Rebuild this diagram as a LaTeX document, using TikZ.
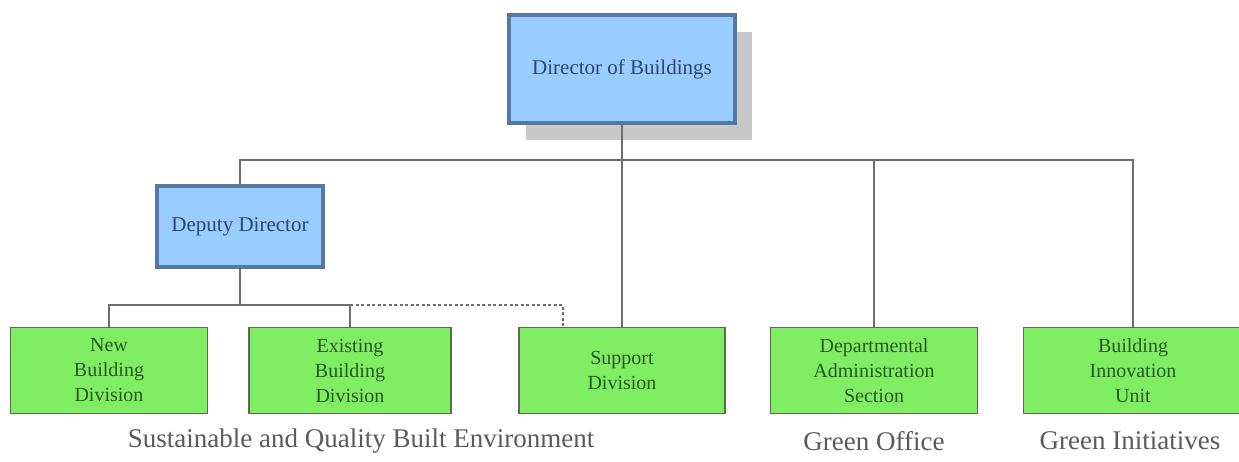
\documentclass[tikz,border=0pt]{standalone}
\usepackage{fontspec}
\setmainfont{Liberation Serif}
\usetikzlibrary{shadows}

\definecolor{chefe}{HTML}{99CCFF}
\definecolor{chefeborda}{HTML}{5878A4}
\definecolor{chefetexto}{HTML}{2C4670}
\definecolor{divisao}{HTML}{80EE62}
\definecolor{divisaoborda}{HTML}{5C6A54}
\definecolor{divisaotexto}{HTML}{2A5626}
\definecolor{sombra}{HTML}{C8C8C8}
\definecolor{linha}{HTML}{6E6E6E}
\definecolor{rotulo}{HTML}{5A5A5A}

\begin{document}
\begin{tikzpicture}[
                x=1pt, y=-1pt,
                chefe/.style={shape=rectangle, draw=chefeborda, line width=4pt, fill=chefe,
                    text=chefetexto, font=\fontsize{21}{25}\selectfont, inner sep=0pt},
                divisao/.style={shape=rectangle, draw=divisaoborda, line width=1.5pt, fill=divisao,
                    text=divisaotexto, font=\fontsize{20}{25}\selectfont, align=center,
                    minimum width=202pt, minimum height=86pt, inner sep=0pt},
                rotulo/.style={text=rotulo, font=\fontsize{27}{30}\selectfont},
                aresta/.style={draw=linha, line width=1.5pt},
                tracejada/.style={aresta, dash pattern=on 3pt off 2.5pt},
            ]
            \useasboundingbox (0, 0) rectangle (1239, 461);
            \clip (0, 0) rectangle (1239, 461);

            \node[chefe, minimum width=226pt, minimum height=108pt,
                drop shadow={shadow xshift=17pt, shadow yshift=-17pt, fill=sombra, opacity=1}]
                (diretor) at (622, 69) {Director of Buildings};
            \node[chefe, minimum width=166pt, minimum height=81pt] (adjunto) at (240, 226.5) {Deputy Director};

            \node[divisao, minimum width=197pt] (novo) at (109, 370.5) {New\\Building\\Division};
            \node[divisao] (existente) at (350, 370.5) {Existing\\Building\\Division};
            \node[divisao, minimum width=206pt] (apoio) at (622, 370.5) {Support\\Division};
            \node[divisao, minimum width=207pt] (admin) at (874, 370.5) {Departmental\\Administration\\Section};
            \node[divisao, minimum width=219pt] (inovacao) at (1133, 370.5) {Building\\Innovation\\Unit};

            \coordinate (barra) at (622, 160);
            \coordinate (barra2) at (240, 305);

            \draw[aresta] (diretor.south) -- (apoio.north);
            \draw[aresta] (adjunto.north) |- (barra) -| (inovacao.north);
            \draw[aresta] (barra) -| (admin.north);
            \draw[aresta] (adjunto.south) -- (barra2);
            \draw[aresta] (novo.north) |- (barra2) -| (existente.north);
            \draw[tracejada] (existente.north |- barra2) -| ([xshift=-59pt]apoio.north);

            \node[rotulo] (sqbe) at (361, 441) {Sustainable and Quality Built Environment};
            \node[rotulo] (go) at (874, 441) {Green Office};
            \node[rotulo] (gi) at (1130, 441) {Green Initiatives};
        \end{tikzpicture}
\end{document}
